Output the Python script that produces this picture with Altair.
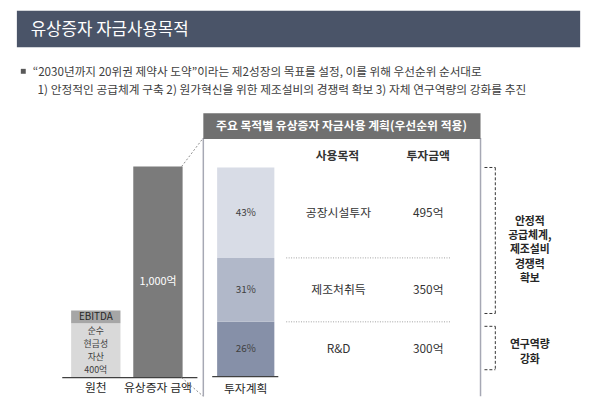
import altair as alt
import pandas as pd

# ---------------- data ----------------
title_text = "유상증자 자금사용목적"
bullet_line1 = "“2030년까지 20위권 제약사 도약”이라는 제2성장의 목표를 설정, 이를 위해 우선순위 순서대로"
bullet_line2 = "1) 안정적인 공급체계 구축 2) 원가혁신을 위한 제조설비의 경쟁력 확보 3) 자체 연구역량의 강화를 추진"

source_cats = ["원천", "유상증자 금액"]
source_seg_cat = ["원천", "원천", "유상증자 금액"]
source_segs = ["순수 현금성 자산", "EBITDA", "유상증자"]
source_heights = [257, 61, 1000]          # bar heights as drawn (1,000억 = tall bar)
source_labels = ["순수\n현금성\n자산\n400억", "EBITDA", "1,000억"]

panel_title = "주요 목적별 유상증자 자금사용 계획(우선순위 적용)"
col_headers = ["사용목적", "투자금액"]
plan_cat = ["투자계획"]
purposes = ["공장시설투자", "제조처취득", "R&D"]
amounts = [495, 350, 300]
bracket_labels = ["안정적\n공급체계,\n제조설비\n경쟁력\n확보", "연구역량\n강화"]

FONT = "Noto Sans CJK KR"
O = 8  # page margin offset

# ---------------- tables ----------------
rows = []
base = {}
for c, s, h, lab in zip(source_seg_cat, source_segs, source_heights, source_labels):
    y0 = base.get(c, 0)
    rows.append(dict(cat=c, seg=s, y0=y0, y1=y0 + h, mid=y0 + h / 2, label=lab))
    base[c] = y0 + h
left_df = pd.DataFrame(rows)

total = sum(amounts)
prow = []
acc = 0
for p, a in reversed(list(zip(purposes, amounts))):
    prow.append(dict(cat=plan_cat[0], purpose=p, amount=a, y0=acc, y1=acc + a,
                     mid=acc + a / 2, pct=f"{round(a / total * 100)}%", amt=f"{a}억"))
    acc += a
right_df = pd.DataFrame(prow)
bounds_df = pd.DataFrame({"b": right_df["y1"].iloc[:-1].tolist()})

dummy = alt.Data(values=[{}])

left_x = alt.Scale(type="band", domain=source_cats, range=[65.7 - O, 191.3 - O],
                   paddingInner=0.206, paddingOuter=0.1)
left_y = alt.Scale(domain=[0, 1000], range=[380 - O, 166 - O])
right_x = alt.Scale(type="band", domain=plan_cat, range=[220 - O, 278 - O],
                    paddingInner=0, paddingOuter=0)
right_y = alt.Scale(domain=[0, total], range=[379 - O, 167 - O])


def rect(x1, y1, x2, y2, color):
    return alt.Chart(dummy).mark_rect(color=color).encode(
        x=alt.value(x1 - O), x2=alt.value(x2 - O), y=alt.value(y1 - O), y2=alt.value(y2 - O))


def line(x1, y1, x2, y2, color, width=1, dash=None):
    kw = dict(color=color, strokeWidth=width)
    if dash:
        kw["strokeDash"] = dash
    return alt.Chart(dummy).mark_rule(**kw).encode(
        x=alt.value(x1 - O), x2=alt.value(x2 - O), y=alt.value(y1 - O), y2=alt.value(y2 - O))


def text(x, y, t, size=12, color="#333333", weight="normal", align="center", baseline="middle", lh=None):
    kw = dict(font=FONT, fontSize=size, color=color, fontWeight=weight, align=align,
              baseline=baseline, text=t)
    if "\n" in t:
        kw["lineBreak"] = "\n"
        kw["lineHeight"] = lh or size * 1.3
    return alt.Chart(dummy).mark_text(**kw).encode(x=alt.value(x - O), y=alt.value(y - O))


layers = []
# header band
layers.append(rect(17, 8, 588, 45, "#4a5468"))
layers.append(text(31, 28, title_text, size=17, color="white", align="left"))
# bullet
layers.append(rect(21, 67, 26, 72, "#595959"))
layers.append(text(33, 70, bullet_line1, size=11.8, color="#404040", align="left"))
layers.append(text(38, 88, bullet_line2, size=11.9, color="#404040", align="left"))

# left bars
layers.append(alt.Chart(left_df).mark_bar().encode(
    x=alt.X("cat:N", scale=left_x, axis=None),
    y=alt.Y("y0:Q", scale=left_y, axis=None),
    y2="y1:Q",
    color=alt.Color("seg:N", scale=alt.Scale(domain=source_segs,
                                            range=["#d9d9d9", "#a6a6a6", "#7b7b7b"]), legend=None),
))
cash_lines = source_labels[0].split("\n")
for k, ln in enumerate(cash_lines):
    layers.append(alt.Chart(left_df).transform_filter(alt.datum.seg == "순수 현금성 자산").mark_text(
        font=FONT, fontSize=9, color="#404040", baseline="middle",
        dy=(k - (len(cash_lines) - 1) / 2) * 13.2, text=ln).encode(
        x=alt.X("cat:N", scale=left_x, axis=None), y=alt.Y("mid:Q", scale=left_y, axis=None)))
layers.append(alt.Chart(left_df).transform_filter(alt.datum.seg == "EBITDA").mark_text(
    font=FONT, fontSize=10, color="#262626", baseline="middle").encode(
    x=alt.X("cat:N", scale=left_x, axis=None), y=alt.Y("mid:Q", scale=left_y, axis=None), text="label:N"))
layers.append(alt.Chart(left_df).transform_filter(alt.datum.seg == "유상증자").mark_text(
    font=FONT, fontSize=11, color="white", baseline="middle", dy=10).encode(
    x=alt.X("cat:N", scale=left_x, axis=None), y=alt.Y("mid:Q", scale=left_y, axis=None), text="label:N"))
layers.append(alt.Chart(dummy).mark_rule(color="#404040", strokeWidth=1.5).encode(
    x=alt.value(63 - O), x2=alt.value(200 - O), y=alt.Y(datum=0, scale=left_y, axis=None)))
layers.append(alt.Chart(pd.DataFrame({"cat": source_cats})).mark_text(
    font=FONT, fontSize=12, color="#262626", baseline="middle").encode(
    x=alt.X("cat:N", scale=left_x, axis=None), y=alt.value(391 - O), text="cat:N"))

# connectors
layers.append(line(184, 166, 206, 137, "#8c8c8c", 1, [2, 2]))
layers.append(line(184, 380, 206, 399, "#8c8c8c", 1, [2, 2]))

# right panel frame
layers.append(line(206, 137, 206, 399, "#a6a8b4", 1.5))
layers.append(line(487, 137, 487, 399, "#a6a8b4", 1.5))
layers.append(rect(206, 112, 487, 138, "#707070"))
layers.append(text(346, 125, panel_title, size=12, color="white", weight="bold"))
layers.append(text(342, 155, col_headers[0], size=12, color="#333333", weight="bold"))
layers.append(text(434, 155, col_headers[1], size=12, color="#333333", weight="bold"))

# stacked plan bar
layers.append(alt.Chart(right_df).mark_bar().encode(
    x=alt.X("cat:N", scale=right_x, axis=None),
    y=alt.Y("y0:Q", scale=right_y, axis=None),
    y2="y1:Q",
    color=alt.Color("purpose:N", scale=alt.Scale(domain=purposes,
                                                range=["#d8dce6", "#b1b8c9", "#8690a8"]), legend=None),
))
layers.append(alt.Chart(right_df).mark_text(font=FONT, fontSize=10, color="#404040").encode(
    x=alt.X("cat:N", scale=right_x, axis=None), y=alt.Y("mid:Q", scale=right_y, axis=None), text="pct:N"))
layers.append(alt.Chart(dummy).mark_rule(color="#404040", strokeWidth=1.5).encode(
    x=alt.value(215 - O), x2=alt.value(282 - O), y=alt.Y(datum=0, scale=right_y, axis=None)))
layers.append(alt.Chart(pd.DataFrame({"cat": plan_cat})).mark_text(
    font=FONT, fontSize=12, color="#262626", baseline="middle").encode(
    x=alt.X("cat:N", scale=right_x, axis=None), y=alt.value(392 - O), text="cat:N"))

# table rows
layers.append(alt.Chart(right_df).mark_text(font=FONT, fontSize=12, color="#333333").encode(
    x=alt.value(343 - O), y=alt.Y("mid:Q", scale=right_y, axis=None), text="purpose:N"))
layers.append(alt.Chart(right_df).mark_text(font=FONT, fontSize=12, color="#333333").encode(
    x=alt.value(434 - O), y=alt.Y("mid:Q", scale=right_y, axis=None), text="amt:N"))
layers.append(alt.Chart(bounds_df).mark_rule(color="#a0a0a0", strokeWidth=1, strokeDash=[1, 1.5]).encode(
    x=alt.value(290 - O), x2=alt.value(457 - O), y=alt.Y("b:Q", scale=right_y, axis=None)))

# brackets
for (t, b) in [(167, 315), (328, 372)]:
    layers.append(line(491, t, 502, t, "#333333", 1, [3, 2]))
    layers.append(line(502, t, 502, b, "#333333", 1, [3, 2]))
    layers.append(line(491, b, 502, b, "#333333", 1, [3, 2]))
layers.append(text(537, 222, bracket_labels[0], size=11, color="#262626", weight="bold", lh=14.5))
layers.append(text(537, 347, bracket_labels[1], size=11, color="#262626", weight="bold", lh=15))

chart = alt.layer(*layers).resolve_scale(x="independent", y="independent", color="independent").properties(
    width=592, height=391, autosize=alt.AutoSizeParams(type="none"), padding=0
).configure_view(stroke=None)

chart.save("out.html", embed_options={"renderer": "svg", "actions": False})
